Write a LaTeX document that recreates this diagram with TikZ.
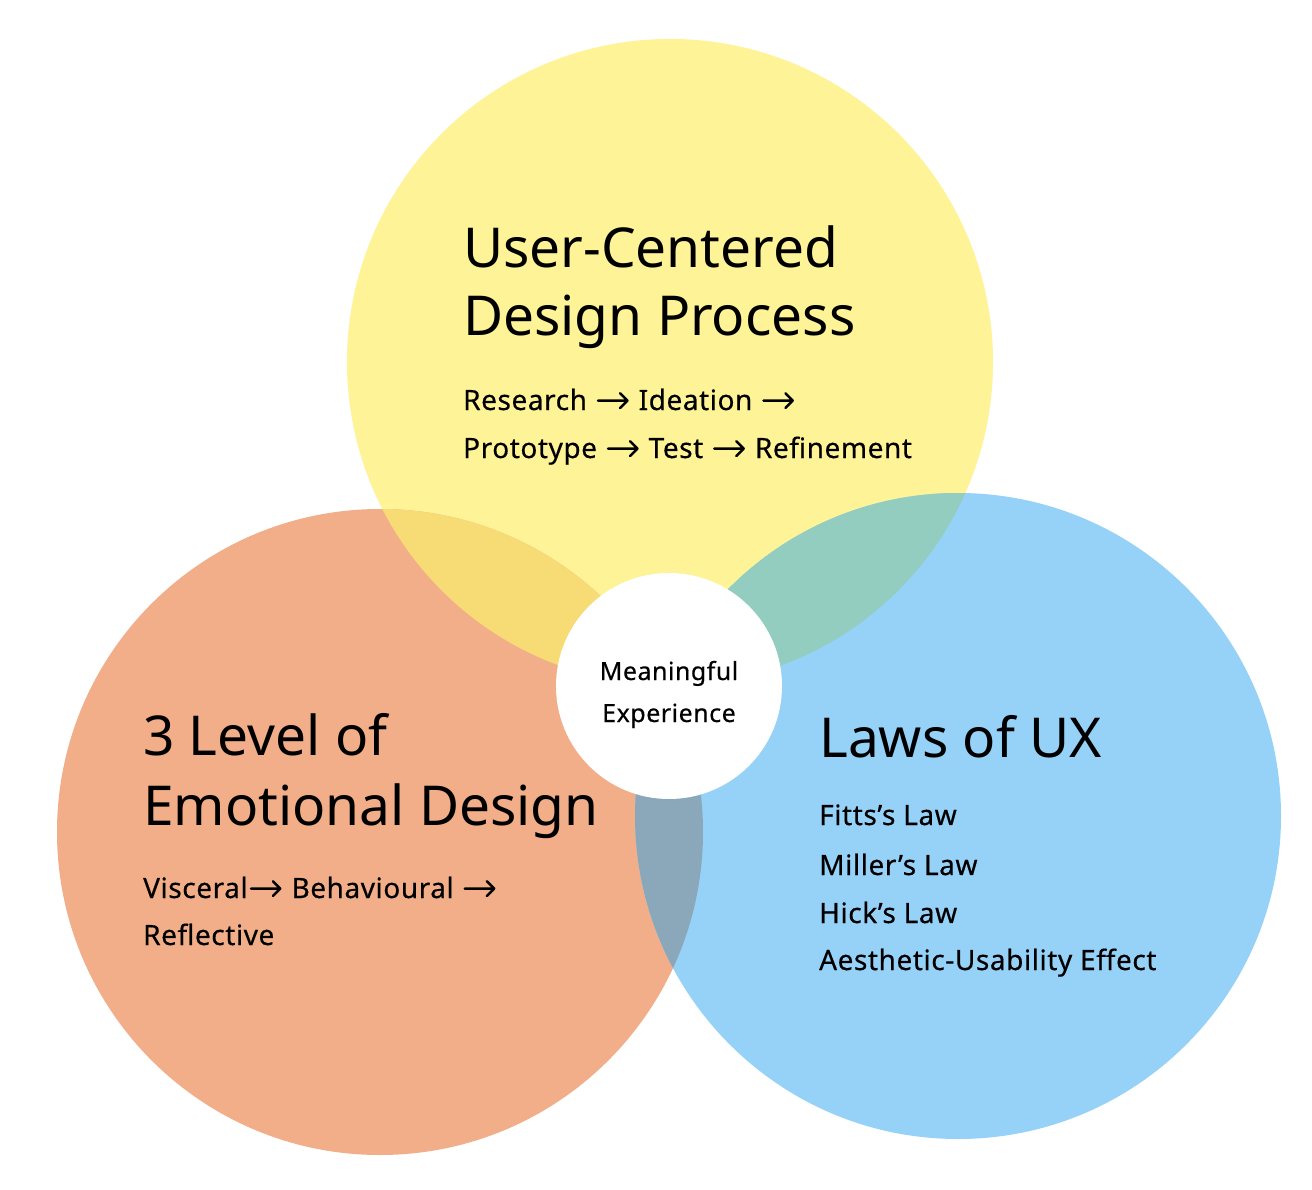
\documentclass[tikz,border=0pt]{standalone}
\usepackage{fontspec}
\setmainfont{Noto Sans}
\newfontfamily\bodyfont[LetterSpace=2, FakeBold=0.4]{Noto Sans}
\newcommand{\rarr}{\hspace{2pt}\tikz[baseline=0pt]{\useasboundingbox (0pt,0pt) rectangle (32pt,18pt);
  \draw[line width=2.5pt, line cap=round, line join=round] (1.2pt,9.4pt) -- (30.6pt,9.4pt) (23.2pt,2pt) -- (30.6pt,9.4pt) -- (23.2pt,16.8pt);}\hspace{2pt}}
\definecolor{cyel}{HTML}{FEF396}
\definecolor{corg}{HTML}{F2AE88}
\definecolor{cblu}{HTML}{96D1F8}
\definecolor{cyo}{HTML}{F7DB75}
\definecolor{cyb}{HTML}{93CDBF}
\definecolor{cob}{HTML}{8AA8BA}
\tikzset{
  big/.style={circle, minimum size=646pt, inner sep=0pt},
  ttl/.style={anchor=base west, inner sep=0pt, font=\fontsize{55}{66}\selectfont},
  txt/.style={anchor=base west, inner sep=0pt, font=\bodyfont\fontsize{28}{34}\selectfont},
  ctr/.style={anchor=base, inner sep=0pt, font=\bodyfont\fontsize{25}{30}\selectfont},
}
\begin{document}
\begin{tikzpicture}[x=1pt,y=-1pt]
\useasboundingbox[fill=white] (0,0) rectangle (1312,1190);
% circles
\node[big, fill=cyel] (ucd) at (670,362) {};
\node[big, fill=corg] (emo) at (380,832) {};
\node[big, fill=cblu] (lux) at (958,816) {};
% overlaps
\begin{scope}
  \clip (670,362) circle (323pt);
  \fill[cyo] (380,832) circle (323pt);
  \fill[cyb] (958,816) circle (323pt);
\end{scope}
\begin{scope}
  \clip (380,832) circle (323pt);
  \fill[cob] (958,816) circle (323pt);
\end{scope}
% centre
\node[circle, fill=white, minimum size=226pt, inner sep=0pt] (core) at (669,686) {};
\node[ctr] (core1) at (669,680) {Meaningful};
\node[ctr] (core2) at (669,722) {Experience};
% yellow text
\node[ttl] (t1a) at (463,268) {User-Centered};
\node[ttl] (t1b) at (463,336) {Design Process};
\node[txt] (b1a) at (463,410) {Research \rarr{} Ideation \rarr};
\node[txt] (b1b) at (463,458) {Prototype \rarr{} Test \rarr{} Refinement};
% orange text
\node[ttl] (t2a) at (143,755) {3 Level of};
\node[ttl] (t2b) at (143,825) {Emotional Design};
\node[txt] (b2a) at (143,898) {Visceral\rarr{} Behavioural \rarr};
\node[txt] (b2b) at (143,945) {Reflective};
% blue text
\node[ttl] (t3a) at (819,757) {Laws of UX};
\node[txt] (b3a) at (819,825) {Fitts’s Law};
\node[txt] (b3b) at (819,875) {Miller’s Law};
\node[txt] (b3c) at (819,923) {Hick’s Law};
\node[txt] (b3d) at (819,970) {Aesthetic-Usability Effect};
\end{tikzpicture}
\end{document}
